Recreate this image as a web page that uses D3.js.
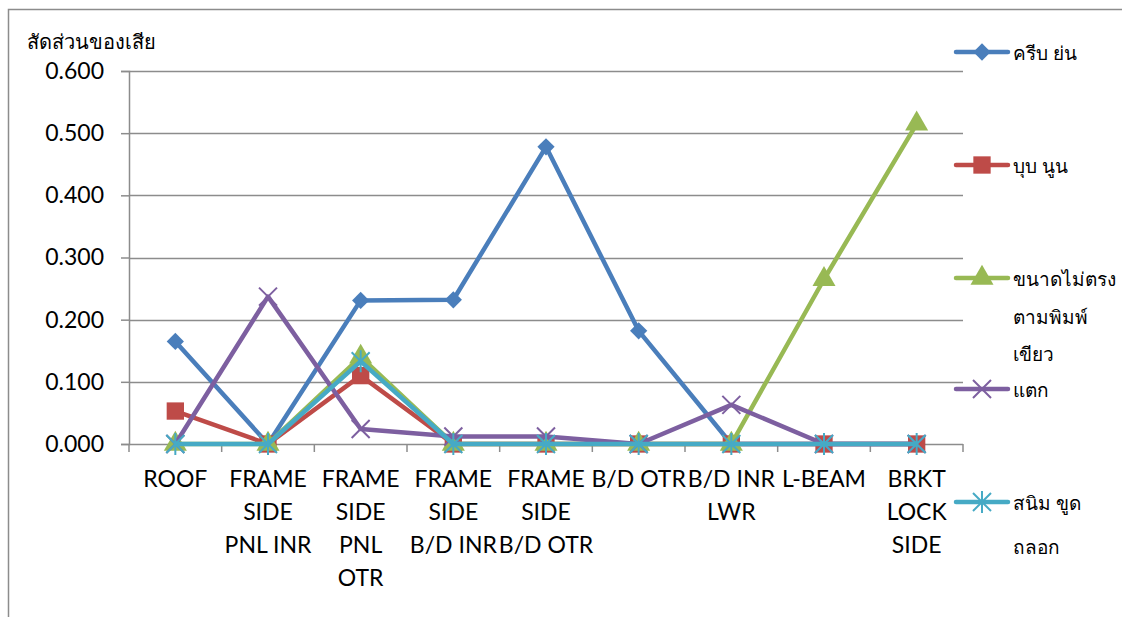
<!DOCTYPE html>
<html>
<head>
<meta charset="utf-8">
<script src="https://cdn.jsdelivr.net/npm/d3@7"></script>
<style>
  body { margin: 0; background: #fff; }
  text { font-family: Lato, "Open Sans", "Noto Sans", sans-serif; fill: #000; }
</style>
</head>
<body>
<div id="chart"></div>
<script>
var categories = [
    ["ROOF"],
    ["FRAME", "SIDE", "PNL INR"],
    ["FRAME", "SIDE", "PNL", "OTR"],
    ["FRAME", "SIDE", "B/D INR"],
    ["FRAME", "SIDE", "B/D OTR"],
    ["B/D OTR"],
    ["B/D INR", "LWR"],
    ["L-BEAM"],
    ["BRKT", "LOCK", "SIDE"]
];
var seriesNames = [["ครีบ ย่น"], ["บุบ นูน"], ["ขนาดไม่ตรง", "ตามพิมพ์"], ["เขียว", "แตก"], ["สนิม ขูด", "ถลอก"]];
var krib = [0.165, 0.000, 0.231, 0.232, 0.478, 0.182, 0.000, 0.000, 0.000];
var bub = [0.053, 0.000, 0.110, 0.000, 0.000, 0.000, 0.000, 0.000, 0.000];
var khanad = [0.000, 0.000, 0.140, 0.000, 0.000, 0.000, 0.000, 0.265, 0.515];
var khiaw = [0.000, 0.237, 0.024, 0.012, 0.012, 0.000, 0.063, 0.000, 0.000];
var sanim = [0.000, 0.000, 0.133, 0.000, 0.000, 0.000, 0.000, 0.000, 0.000];
var yTicks = [0, 0.1, 0.2, 0.3, 0.4, 0.5, 0.6];

var allSeries = [krib, bub, khanad, khiaw, sanim];
var colors = ["#4A7EBB", "#BE4B48", "#98B954", "#7D5FA0", "#46AAC5"];
var markers = ["diamond", "square", "triangle", "x", "star"];

var width = 1122, height = 617;
var margin = { top: 71, right: 159, bottom: 173, left: 129 };
var plotW = width - margin.left - margin.right,
    plotH = height - margin.top - margin.bottom;

var svg = d3.select("#chart")
    .append("svg")
    .attr("width", width)
    .attr("height", height);

// outer chart border
svg.append("rect")
    .attr("x", 8.5).attr("y", 9.5)
    .attr("width", width + 20).attr("height", height + 20)
    .attr("fill", "none")
    .attr("stroke", "#8c8c8c")
    .attr("stroke-width", 1.5);

var g = svg.append("g")
    .attr("transform", "translate(" + margin.left + "," + margin.top + ")");

var x = d3.scaleBand()
    .domain(d3.range(categories.length))
    .range([0, plotW]);

var y = d3.scaleLinear()
    .domain([0, 0.6])
    .range([plotH, 0]);

// gridlines
g.selectAll(".grid")
    .data(yTicks.slice(1))
    .enter()
    .append("line")
    .attr("x1", 0).attr("x2", plotW)
    .attr("y1", function (d) { return Math.round(y(d)) + 0.5; })
    .attr("y2", function (d) { return Math.round(y(d)) + 0.5; })
    .attr("stroke", "#8c8c8c")
    .attr("stroke-width", 1.5);

// y axis
var yAxis = g.append("g")
    .call(d3.axisLeft(y).tickValues(yTicks).tickFormat(d3.format(".3f")).tickSizeOuter(0).tickSize(8).tickPadding(17));
yAxis.selectAll("path, line").attr("stroke", "#8c8c8c").attr("stroke-width", 1.5);
yAxis.selectAll("text").style("font-size", "23px");

// x axis
var xAxis = g.append("g")
    .attr("transform", "translate(0," + plotH + ")");
xAxis.append("line")
    .attr("x1", 0).attr("x2", plotW)
    .attr("y1", 0.5).attr("y2", 0.5)
    .attr("stroke", "#8c8c8c").attr("stroke-width", 1.5);
xAxis.selectAll(".tick")
    .data(d3.range(categories.length + 1))
    .enter()
    .append("line")
    .attr("x1", function (d) { return d * x.bandwidth(); })
    .attr("x2", function (d) { return d * x.bandwidth(); })
    .attr("y1", 0).attr("y2", 8)
    .attr("stroke", "#8c8c8c").attr("stroke-width", 1.5);

categories.forEach(function (lines, i) {
    var t = xAxis.append("text")
        .attr("text-anchor", "middle")
        .style("font-size", "23px");
    lines.forEach(function (ln, j) {
        t.append("tspan")
            .attr("x", x(i) + x.bandwidth() / 2)
            .attr("y", 43 + j * 33)
            .text(ln);
    });
});

// y title
svg.append("text")
    .attr("x", 27).attr("y", 49)
    .style("font-size", "20px")
    .text("สัดส่วนของเสีย");

function markerPath(type) {
    if (type === "diamond") return d3.symbol().type(d3.symbolDiamond2).size(190)();
    if (type === "square") return d3.symbol().type(d3.symbolSquare).size(300)();
    if (type === "triangle") return d3.symbol().type(d3.symbolTriangle).size(230)();
    if (type === "x") return "M-9,-9L9,9M-9,9L9,-9";
    return "M-9,-9L9,9M-9,9L9,-9M0,-11L0,11";
}

function drawMarker(sel, type, color, cx, cy) {
    var p = sel.append("path")
        .attr("transform", "translate(" + cx + "," + cy + ")")
        .attr("d", markerPath(type));
    if (type === "x" || type === "star") {
        p.attr("fill", "none").attr("stroke", color).attr("stroke-width", 2);
    } else {
        p.attr("fill", color);
    }
}

var line = d3.line()
    .x(function (d, i) { return x(i) + x.bandwidth() / 2; })
    .y(function (d) { return y(d); });

allSeries.forEach(function (data, s) {
    g.append("path")
        .datum(data)
        .attr("fill", "none")
        .attr("stroke", colors[s])
        .attr("stroke-width", 4.5)
        .attr("stroke-linejoin", "round")
        .attr("d", line);
    data.forEach(function (v, i) {
        drawMarker(g, markers[s], colors[s], x(i) + x.bandwidth() / 2, y(v));
    });
});

// legend
var legendY = [52, 165, 278, 389, 502];
var legendTextY = [[52], [165], [278, 316], [353, 389], [502, 546]];
allSeries.forEach(function (data, s) {
    var lg = svg.append("g");
    lg.append("line")
        .attr("x1", 956).attr("x2", 1008)
        .attr("y1", legendY[s]).attr("y2", legendY[s])
        .attr("stroke", colors[s])
        .attr("stroke-width", 4.5)
        .attr("stroke-linecap", "round");
    drawMarker(lg, markers[s], colors[s], 982, legendY[s]);
    seriesNames[s].forEach(function (ln, j) {
        lg.append("text")
            .attr("x", 1013)
            .attr("y", legendTextY[s][j])
            .attr("dominant-baseline", "central")
            .style("font-size", "19px")
            .text(ln);
    });
});
</script>
</body>
</html>
